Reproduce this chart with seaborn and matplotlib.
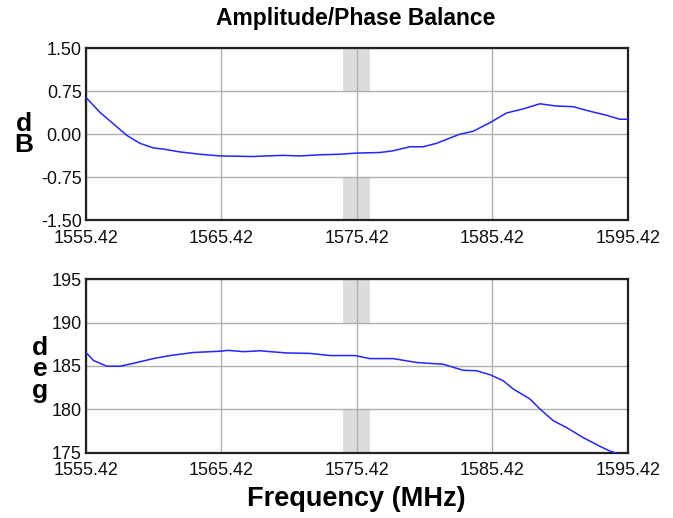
import numpy as np
import pandas as pd
import matplotlib
matplotlib.use("Agg")
import matplotlib.pyplot as plt
import seaborn as sns

# amplitude balance (dB)
amp_freq = [1555.42, 1556.45, 1557.44, 1558.42, 1559.41, 1560.39, 1561.13, 1562.36,
            1563.83, 1565.31, 1567.77, 1568.76, 1569.96, 1571.21, 1572.69, 1574.17,
            1575.42, 1577.12, 1578.10, 1579.33, 1580.31, 1581.30, 1583.02, 1584.00,
            1585.24, 1586.47, 1587.69, 1588.93, 1590.16, 1591.38, 1592.62, 1593.85,
            1594.83, 1595.42]
amp_db = [0.64, 0.38, 0.18, -0.02, -0.16, -0.24, -0.26, -0.31,
          -0.35, -0.38, -0.39, -0.38, -0.37, -0.38, -0.36, -0.35,
          -0.33, -0.32, -0.29, -0.22, -0.22, -0.16, 0.00, 0.05,
          0.20, 0.37, 0.44, 0.53, 0.49, 0.48, 0.40, 0.33,
          0.26, 0.26]

# phase balance (deg)
ph_freq = [1555.42, 1555.96, 1556.95, 1557.93, 1558.91, 1560.39, 1561.62, 1563.34,
           1565.31, 1565.92, 1567.03, 1568.26, 1570.23, 1571.95, 1573.43, 1575.27,
           1576.38, 1578.10, 1579.83, 1581.79, 1583.27, 1584.25, 1585.24, 1586.22,
           1586.96, 1588.19, 1588.93, 1589.91, 1590.90, 1592.12, 1593.35, 1594.09,
           1594.59, 1595.42]
ph_deg = [186.55, 185.65, 184.97, 184.97, 185.3, 185.85, 186.2, 186.55,
          186.7, 186.8, 186.65, 186.75, 186.5, 186.45, 186.2, 186.2,
          185.85, 185.85, 185.4, 185.2, 184.5, 184.45, 184.0, 183.3,
          182.35, 181.2, 180.05, 178.7, 177.9, 176.75, 175.75, 175.2,
          174.95, 174.4]

x_ticks = [1555.42, 1565.42, 1575.42, 1585.42, 1595.42]
amp_ticks = [-1.5, -0.75, 0.0, 0.75, 1.5]
ph_ticks = [175, 180, 185, 190, 195]
band = (1574.42, 1576.42)

sns.set_style("white")
plt.rcParams['font.family'] = ['Liberation Sans', 'DejaVu Sans']
plt.rcParams['axes.axisbelow'] = 'line'
plt.rcParams['text.color'] = 'black'

fig = plt.figure(figsize=(6.73, 5.18), dpi=100)
ax1 = fig.add_axes([0.1278, 0.575, 0.805, 0.332])
ax2 = fig.add_axes([0.1278, 0.126, 0.805, 0.335])

amp_df = pd.DataFrame({"freq": amp_freq, "val": amp_db})
ph_df = pd.DataFrame({"freq": ph_freq, "val": ph_deg})

for ax, df, yt, fmt in [(ax1, amp_df, amp_ticks, "{:.2f}"), (ax2, ph_df, ph_ticks, "{:d}")]:
    # shaded band only in the outer quarters
    ax.axvspan(band[0], band[1], ymin=0.75, ymax=1.0, color="#dcdcdc", lw=0, zorder=1)
    ax.axvspan(band[0], band[1], ymin=0.0, ymax=0.25, color="#dcdcdc", lw=0, zorder=1)
    sns.lineplot(data=df, x="freq", y="val", ax=ax, color="#2525ff", lw=1.1, zorder=3)
    ax.set_xlim(x_ticks[0], x_ticks[-1])
    ax.set_ylim(yt[0], yt[-1])
    ax.set_xticks(x_ticks)
    ax.set_xticklabels(["{:.2f}".format(t) for t in x_ticks])
    ax.set_yticks(yt)
    ax.set_yticklabels([fmt.format(t) for t in yt])
    ax.grid(True, color="#b0b0b0", lw=1.0, zorder=2)
    ax.tick_params(axis="y", length=0, pad=3, labelsize=13, colors="#111111")
    ax.tick_params(axis="x", length=0, pad=7, labelsize=13, colors="#111111")
    ax.set_xlabel("")
    ax.set_ylabel("")
    for s in ax.spines.values():
        s.set_color("#222222")
        s.set_linewidth(1.6)

ax1.text(-0.115, 0.50, "d\nB", transform=ax1.transAxes, ha="center", va="center",
         fontsize=19, fontweight="bold", linespacing=0.85, color="black")
ax2.text(-0.085, 0.48, "d\ne\ng", transform=ax2.transAxes, ha="center", va="center",
         fontsize=19, fontweight="bold", linespacing=0.85, color="black")

fig.suptitle("Amplitude/Phase Balance", x=0.528, y=0.986, fontsize=16.5, fontweight="bold", color="black")
fig.text(0.529, 0.037, "Frequency (MHz)", ha="center", va="center", fontsize=19.5,
         fontweight="bold", color="black")

fig.savefig("out.png", dpi=100)
